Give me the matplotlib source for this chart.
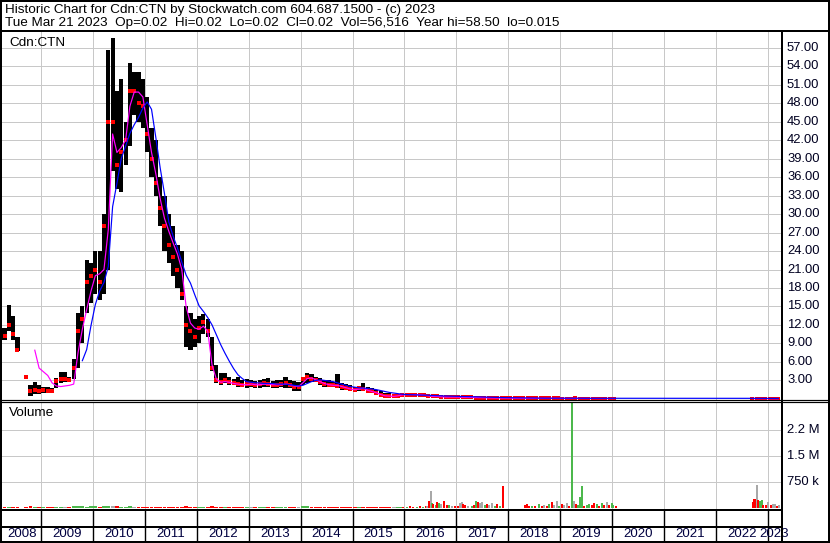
import numpy as np
import pandas as pd
import matplotlib
matplotlib.use("Agg")
import matplotlib.pyplot as plt
from matplotlib.lines import Line2D

plt.rcParams['font.family'] = ['Liberation Sans', 'DejaVu Sans']

nan = float('nan')

# ---------------- data ----------------
months = pd.period_range('2008-04', '2023-03', freq='M')

price_high = [
    11.5, 15.2, 13.5, 10.0, nan, 3.8, 2.2, 2.8, 2.3,                      # 2008 Apr-Dec
    2.0, 2.0, 1.8, 3.4, 4.3, 4.3, 3.5, 6.5, 14.0, 15.0, 22.6, 22.0,       # 2009
    24, 24, 30, 56.6, 58.5, 50, 52, 45, 54.5, 53, 53, 52,                 # 2010
    49, 44, 42, 36, 33, 30, 28, 25, 24, 15, 14, 13,                       # 2011
    13.5, 13.8, 13.0, 10.0, 5.5, 4.2, 4.2, 3.6, 3.3, 3.5, 3.0, 3.2,       # 2012
    3.0, 2.9, 3.0, 3.2, 3.4, 2.9, 3.0, 3.1, 3.5, 3.0, 2.9, 2.7,           # 2013
    3.6, 4.2, 4.0, 3.6, 3.4, 3.0, 3.1, 2.8, 4.0, 2.6, 2.4, 2.2,           # 2014
    2.0, 2.1, 2.5, 1.9, 1.7, 1.5, 1.2, 0.9, 0.9, 0.7, 0.8, 1.0,           # 2015
    1.0, 0.9, 0.9, 1.0, 0.9, 0.8, 0.6, 0.6, 0.5, 0.5, 0.5, 0.45,          # 2016
    0.4, 0.4, 0.35, 0.35, 0.3, 0.3, 0.3, 0.25, 0.25, 0.2, 0.2, 0.2,       # 2017
    0.15, 0.15, 0.14, 0.14, 0.13, 0.13, 0.12, 0.12, 0.12, 0.11, 0.11, 0.11,  # 2018
    0.1, 0.1, 0.12, 0.4, 0.12, 0.1, 0.1, 0.1, 0.09, 0.09, 0.09, 0.08,     # 2019
    0.08, nan, nan, nan, nan, nan, nan, nan, nan, nan, nan, nan,          # 2020
    nan, nan, nan, nan, nan, nan, nan, nan, nan, nan, nan, nan,           # 2021
    nan, nan, nan, nan, nan, nan, nan, nan, 0.06, 0.06, 0.06, 0.06,       # 2022
    0.05, 0.05, 0.05,                                                     # 2023
]
price_low = [
    9.5, 11.0, 9.5, 7.8, nan, 3.4, 0.4, 0.8, 0.8,
    1.0, 1.0, 0.9, 1.8, 2.6, 2.8, 2.8, 3.3, 5.0, 9.0, 14.0, 15.5,
    17, 16, 17, 21, 37, 34, 33.5, 38, 41, 46, 45, 44,
    40, 36, 33, 28, 24, 22, 20, 18, 16, 8.5, 8, 8.5,
    9.0, 10.5, 10.0, 4.5, 2.5, 2.3, 2.5, 2.3, 2.2, 2.0, 1.9, 1.8,
    1.9, 1.8, 1.8, 1.9, 1.9, 1.8, 1.8, 1.9, 1.8, 1.7, 1.3, 1.3,
    2.2, 2.6, 2.8, 2.7, 2.3, 2.0, 2.0, 1.9, 1.7, 1.5, 1.4, 1.2,
    1.1, 1.2, 1.3, 1.0, 0.9, 0.8, 0.4, 0.3, 0.2, 0.2, 0.3, 0.4,
    0.5, 0.5, 0.5, 0.5, 0.4, 0.4, 0.3, 0.3, 0.3, 0.25, 0.25, 0.2,
    0.2, 0.2, 0.18, 0.18, 0.15, 0.15, 0.12, 0.12, 0.1, 0.1, 0.08, 0.08,
    0.07, 0.07, 0.06, 0.06, 0.06, 0.05, 0.05, 0.05, 0.05, 0.05, 0.05, 0.05,
    0.04, 0.04, 0.04, 0.05, 0.04, 0.04, 0.04, 0.04, 0.03, 0.03, 0.03, 0.03,
    0.03, nan, nan, nan, nan, nan, nan, nan, nan, nan, nan, nan,
    nan, nan, nan, nan, nan, nan, nan, nan, nan, nan, nan, nan,
    nan, nan, nan, nan, nan, nan, nan, nan, 0.02, 0.02, 0.02, 0.02,
    0.015, 0.015, 0.015,
]
price_close = [
    10.2, 12.0, 10.5, 8.0, nan, 3.6, 1.2, 1.5, 1.2,
    1.5, 1.3, 1.2, 2.9, 3.2, 3.2, 3.0, 5.0, 11.0, 13.0, 19.0, 20.0,
    21, 19, 28, 45, 45, 38, 40, 42, 50, 50, 48, 47.5,
    43, 39, 35, 31, 28, 25, 23, 21, 17, 12, 11, 10,
    11.5, 12.5, 11.0, 5.0, 3.0, 2.8, 3.0, 2.7, 2.6, 2.4, 2.3, 2.4,
    2.4, 2.3, 2.4, 2.5, 2.4, 2.2, 2.3, 2.4, 2.5, 2.3, 2.0, 2.0,
    3.2, 3.5, 3.3, 3.1, 2.7, 2.4, 2.3, 2.2, 2.1, 2.0, 1.8, 1.6,
    1.5, 1.7, 1.6, 1.3, 1.2, 1.0, 0.6, 0.5, 0.4, 0.4, 0.5, 0.7,
    0.7, 0.7, 0.7, 0.7, 0.6, 0.5, 0.4, 0.4, 0.35, 0.3, 0.3, 0.3,
    0.3, 0.28, 0.25, 0.25, 0.22, 0.2, 0.18, 0.16, 0.15, 0.13, 0.12, 0.12,
    0.1, 0.1, 0.09, 0.09, 0.08, 0.08, 0.08, 0.08, 0.07, 0.07, 0.07, 0.07,
    0.06, 0.06, 0.06, 0.08, 0.06, 0.06, 0.06, 0.05, 0.05, 0.05, 0.05, 0.05,
    0.05, nan, nan, nan, nan, nan, nan, nan, nan, nan, nan, nan,
    nan, nan, nan, nan, nan, nan, nan, nan, nan, nan, nan, nan,
    nan, nan, nan, nan, nan, nan, nan, nan, 0.04, 0.04, 0.04, 0.04,
    0.02, 0.02, 0.02,
]
ma_short = [  # magenta average
    nan, nan, nan, nan, nan, nan, nan, 7.9, 5.0,
    4.4, 3.8, 2.6, 2.1, 2.0, 2.1, 2.2, 2.4, 7.5, 11.3, 14.5, 17.5,
    20.0, 20.3, 21.0, 27.5, 43.0, 40.0, 40.8, 42.0, 47.5, 49.8, 49.8, 49.0,
    44.5, 40.0, 36.5, 32.5, 29.3, 27.2, 25.3, 23.5, 21.0, 15.0, 12.3, 11.5,
    11.3, 11.8, 11.0, 5.5, 3.2, 2.7, 2.8, 2.7, 2.5, 2.4, 2.3, 2.3,
    2.4, 2.3, 2.3, 2.4, 2.4, 2.3, 2.3, 2.3, 2.4, 2.3, 2.1, 2.0,
    2.6, 3.3, 3.4, 3.1, 2.8, 2.5, 2.3, 2.2, 2.2, 2.0, 1.8, 1.6,
    1.5, 1.6, 1.7, 1.4, 1.2, 1.0, 0.7, 0.5, 0.45, 0.4, 0.5, 0.65,
    0.7, 0.7, 0.7, 0.7, 0.6, 0.5, 0.4, 0.4, 0.35, 0.3, 0.3, 0.3,
    0.28, 0.26, 0.25, 0.24, 0.22, 0.2, 0.18, 0.16, 0.15, 0.14, 0.13, 0.12,
    0.11, 0.1, 0.1, 0.09, 0.09, 0.09, 0.08, 0.08, 0.08, 0.08, 0.07, 0.07,
    0.07, 0.07, 0.07, 0.08, 0.07, 0.06, 0.06, 0.06, 0.05, 0.05, 0.05, 0.05,
    0.05, nan, nan, nan, nan, nan, nan, nan, nan, nan, nan, nan,
    nan, nan, nan, nan, nan, nan, nan, nan, nan, nan, nan, nan,
    nan, nan, nan, nan, nan, nan, nan, nan, 0.05, 0.04, 0.04, 0.04,
    0.03, 0.02, 0.02,
]
ma_long = [  # blue average
    nan, nan, nan, nan, nan, nan, nan, nan, nan,
    nan, nan, nan, nan, nan, nan, nan, nan, nan, 6.2, 8.0, 11.9,
    15.3, 17.5, 18.9, 21.5, 31.2, 35.0, 39.0, 41.0, 43.1, 44.5, 45.7, 47.2,
    48.2, 47.0, 42.4, 37.5, 33.3, 28.7, 26.4, 24.5, 22.2, 20.1, 18.8, 16.9,
    15.1, 14.2, 13.2, 12.0, 10.4, 8.8, 7.4, 6.1, 4.9, 3.9, 3.3, 2.8,
    2.7, 2.6, 2.6, 2.5, 2.5, 2.5, 2.4, 2.4, 2.4, 2.3, 2.2, 2.1,
    2.2, 2.5, 2.8, 3.0, 3.1, 3.0, 2.9, 2.8, 2.6, 2.4, 2.2, 2.0,
    1.9, 1.8, 1.75, 1.7, 1.6, 1.5, 1.35, 1.2, 1.05, 0.95, 0.85, 0.75,
    0.7, 0.68, 0.65, 0.62, 0.6, 0.6, 0.55, 0.52, 0.5, 0.47, 0.45, 0.42,
    0.4, 0.38, 0.36, 0.35, 0.33, 0.32, 0.3, 0.28, 0.26, 0.24, 0.22, 0.2,
    0.19, 0.18, 0.17, 0.16, 0.15, 0.14, 0.13, 0.13, 0.12, 0.12, 0.11, 0.11,
    0.11, 0.11, 0.11, 0.11, 0.11, 0.1, 0.1, 0.1, 0.1, 0.1, 0.1, 0.1,
    0.1, 0.1, 0.1, 0.1, 0.1, 0.1, 0.1, 0.1, 0.1, 0.1, 0.1, 0.1,
    0.1, 0.1, 0.1, 0.1, 0.1, 0.1, 0.1, 0.1, 0.1, 0.1, 0.1, 0.1,
    0.1, 0.1, 0.1, 0.1, 0.1, 0.1, 0.1, 0.1, 0.09, 0.09, 0.09, 0.08,
    0.08, 0.07, 0.07,
]

# monthly typical volume before 2016 (thousands), 2008-04 .. 2015-12
early_volume_k = [
    40, 45, 35, 40, nan, 30, 50, 45, 40,
    40, 35, 40, 45, 40, 35, 40, 50, 55, 50, 45, 50,
    50, 45, 55, 60, 55, 50, 45, 45, 50, 45, 40, 45,
    45, 40, 40, 45, 40, 40, 35, 40, 45, 50, 45, 40,
    40, 45, 40, 50, 45, 40, 40, 35, 40, 40, 35, 40,
    40, 35, 40, 40, 45, 35, 40, 40, 45, 40, 35, 35,
    50, 55, 45, 40, 40, 35, 35, 40, 45, 35, 35, 35,
    35, 40, 40, 35, 35, 30, 40, 35, 35, 30, 35, 40,
]

# individual daily volume bars from 2016 on
vol_dates = [
    2015.978, 2016.042, 2016.107, 2016.171, 2016.235, 2016.300, 2016.364, 2016.415,
    2016.441, 2016.479, 2016.505, 2016.537, 2016.557, 2016.608, 2016.634, 2016.672,
    2016.711, 2016.762, 2016.814, 2016.865, 2016.910, 2016.974, 2017.038, 2017.071,
    2017.109, 2017.135, 2017.167, 2017.231, 2017.295, 2017.340, 2017.379, 2017.424,
    2017.456, 2017.501, 2017.552, 2017.597, 2017.636, 2017.681, 2017.745, 2017.790,
    2017.841, 2017.906,
    2018.323, 2018.355, 2018.407, 2018.452, 2018.516, 2018.600, 2018.645, 2018.696,
    2018.741, 2018.792, 2018.837, 2018.882, 2018.934, 2018.985, 2019.030, 2019.075,
    2019.127, 2019.178, 2019.236, 2019.268, 2019.306, 2019.339, 2019.384, 2019.416,
    2019.461, 2019.512, 2019.564, 2019.608, 2019.653, 2019.705, 2019.750, 2019.801,
    2019.846, 2019.898, 2019.949, 2019.994, 2020.026, 2020.077,
    2022.712, 2022.744, 2022.776, 2022.796, 2022.821, 2022.854, 2022.886, 2022.918,
    2022.969, 2023.014, 2023.059, 2023.098, 2023.143, 2023.188, 2023.226,
]
vol_values_k = [
    40, 30, 50, 40, 30, 50, 40, 50,
    68, 194, 504, 146, 116, 87, 165, 136,
    116, 213, 87, 97, 68, 49, 68, 136,
    165, 116, 97, 49, 68, 87, 213, 184,
    136, 165, 87, 116, 87, 146, 49, 116,
    68, 650,
    87, 116, 68, 49, 68, 116, 68, 87,
    68, 116, 165, 87, 213, 68, 116, 87,
    136, 68, 3500, 213, 116, 87, 330, 650,
    68, 87, 116, 87, 136, 116, 68, 136,
    87, 165, 87, 136, 87, 49,
    175, 252, 272, 660, 223, 204, 223, 97,
    78, 175, 78, 126, 116, 58, 97,
]
vol_dirs = [  # u = up (green), d = down (red), n = unchanged (grey)
    'd', 'u', 'd', 'd', 'u', 'd', 'u', 'd',
    'n', 'd', 'n', 'u', 'd', 'u', 'd', 'u',
    'n', 'd', 'd', 'u', 'n', 'd', 'd', 'n',
    'n', 'd', 'd', 'n', 'u', 'd', 'u', 'd',
    'n', 'n', 'u', 'd', 'n', 'n', 'u', 'd',
    'u', 'd',
    'd', 'd', 'd', 'u', 'd', 'u', 'd', 'n',
    'd', 'u', 'd', 'n', 'n', 'u', 'd', 'n',
    'n', 'd', 'u', 'n', 'd', 'u', 'u', 'u',
    'd', 'u', 'u', 'd', 'd', 'u', 'd', 'u',
    'd', 'n', 'd', 'u', 'u', 'd',
    'd', 'd', 'd', 'n', 'd', 'u', 'u', 'd',
    'd', 'n', 'd', 'n', 'n', 'd', 'n',
]

price_ticks = [3, 6, 9, 12, 15, 18, 21, 24, 27, 30, 33, 36, 39, 42, 45, 48, 51, 54, 57]
volume_ticks_k = [750, 1500, 2250]
volume_tick_labels = ['750 k', '1.5 M', '2.2 M']
years = list(range(2008, 2024))

header_line1 = "Historic Chart for Cdn:CTN by Stockwatch.com 604.687.1500 - (c) 2023"
header_line2 = "Tue Mar 21 2023  Op=0.02  Hi=0.02  Lo=0.02  Cl=0.02  Vol=56,516  Year hi=58.50  lo=0.015"
symbol = "Cdn:CTN"

# ---------------- layout ----------------
W, H = 830, 543
X0, X1 = 2008.243, 2023.258
GRID = '#c8c8c8'
GREEN = '#4cb84c'
RED = '#ff0000'
GREY = '#a8a8a8'
PX = 0.72  # one pixel in points
FS = 9.7

fig = plt.figure(figsize=(W / 100, H / 100), dpi=100)
fig.patch.set_facecolor('white')


def rect(x0, y0, x1, y1):
    return [x0 / W, 1 - y1 / H, (x1 - x0) / W, (y1 - y0) / H]


def fline(xs, ys, lw=1.0, color='black'):
    fig.add_artist(Line2D([x / W for x in xs], [1 - y / H for y in ys],
                          color=color, lw=lw * PX, transform=fig.transFigure,
                          solid_capstyle='butt'))


def ftext(x, y, s, size=FS, **kw):
    fig.text(x / W, 1 - y / H, s, va='center', ha='left', fontsize=size, color='black', **kw)


xm = np.array([p.year + (p.month - 0.5) / 12 for p in months])
hi = np.array(price_high, dtype=float)
lo = np.array(price_low, dtype=float)
cl = np.array(price_close, dtype=float)

# price panel
ax_p = fig.add_axes(rect(2, 32, 781, 399.5))
ax_p.set_xlim(X0, X1)
ax_p.set_ylim(-0.1, 59.55)
for t in price_ticks:
    ax_p.axhline(t, color=GRID, lw=PX, zorder=0)
for y in years[1:]:
    ax_p.axvline(y, color=GRID, lw=PX, zorder=0)
ok = ~np.isnan(hi)
ax_p.bar(xm[ok], hi[ok] - lo[ok], bottom=lo[ok], width=0.08, color='black',
         linewidth=0, zorder=2)
ax_p.plot(xm, cl, linestyle='none', marker='s', markersize=2.8, color=RED,
          markeredgewidth=0, zorder=3)
ax_p.plot(xm, ma_short, color='#ff00ff', lw=1.2 * PX, zorder=4)
ax_p.plot(xm, ma_long, color='#0000ff', lw=1.2 * PX, zorder=5)
ax_p.axis('off')

# volume panel
ax_v = fig.add_axes(rect(2, 402.5, 781, 509))
ax_v.set_xlim(X0, X1)
ax_v.set_ylim(-25, 3050)
for t in volume_ticks_k:
    ax_v.axhline(t, color=GRID, lw=PX, zorder=0)
for y in years[1:]:
    ax_v.axvline(y, color=GRID, lw=PX, zorder=0)

ev = np.array(early_volume_k, dtype=float)
n_early = len(ev)
ecol = []
prev = nan
for c in cl[:n_early]:
    if np.isnan(c) or np.isnan(prev):
        ecol.append(RED)
    elif c > prev:
        ecol.append(GREEN)
    elif c < prev:
        ecol.append(RED)
    else:
        ecol.append(GREY)
    if not np.isnan(c):
        prev = c
okv = ~np.isnan(ev)
ax_v.bar(xm[:n_early][okv], ev[okv], width=0.075,
         color=[c for c, o in zip(ecol, okv) if o], linewidth=0, zorder=2)
cmap = {'u': GREEN, 'd': RED, 'n': GREY}
ax_v.bar(vol_dates, vol_values_k, width=0.04, color=[cmap[d] for d in vol_dirs],
         linewidth=0, zorder=2)
ax_v.axis('off')

# year band
ax_b = fig.add_axes(rect(2, 509, 781, 542))
ax_b.set_xlim(X0, X1)
ax_b.set_ylim(0, 1)
ax_b.axis('off')
for y in years[1:]:
    ax_b.axvline(y, color='black', lw=1.4 * PX)
bounds = [X0] + years[1:] + [X1]
for i, y in enumerate(years):
    ax_b.text((bounds[i] + bounds[i + 1]) / 2, 0.245, str(y), ha='center', va='center',
              fontsize=9.5, color='#000040', clip_on=False)

# frame lines
fline([0, W], [1, 1], lw=2)
fline([0, W], [H - 1, H - 1], lw=2)
fline([1, 1], [0, H], lw=2)
fline([W - 1, W - 1], [0, H], lw=2)
fline([0, W], [31, 31], lw=2)
fline([0, W], [400.2, 400.2], lw=1.2)
fline([0, W], [402.4, 402.4], lw=1.2)
fline([0, 781.5], [509.5, 509.5], lw=2)
fline([0, 781.5], [527.3, 527.3], lw=2)
fline([781.5, 781.5], [31, H], lw=2)

# header and panel captions
ftext(5, 9.5, header_line1)
ftext(5, 23, header_line2)
ftext(9, 42.5, symbol)
ftext(9, 413, 'Volume')

# right-hand labels (placed through the axes scales)
fig.canvas.draw()
inv = fig.transFigure.inverted()
for t in price_ticks:
    fy = inv.transform(ax_p.transData.transform((X0, t)))[1]
    fig.text(787 / W, fy, f"{t:.2f}", fontsize=9.4, va='center', ha='left', color='#000020')
for t, lab in zip(volume_ticks_k, volume_tick_labels):
    fy = inv.transform(ax_v.transData.transform((X0, t)))[1]
    fig.text(787 / W, fy, lab, fontsize=9.4, va='center', ha='left', color='#000020')

fig.savefig('out.png', dpi=100, facecolor='white')
